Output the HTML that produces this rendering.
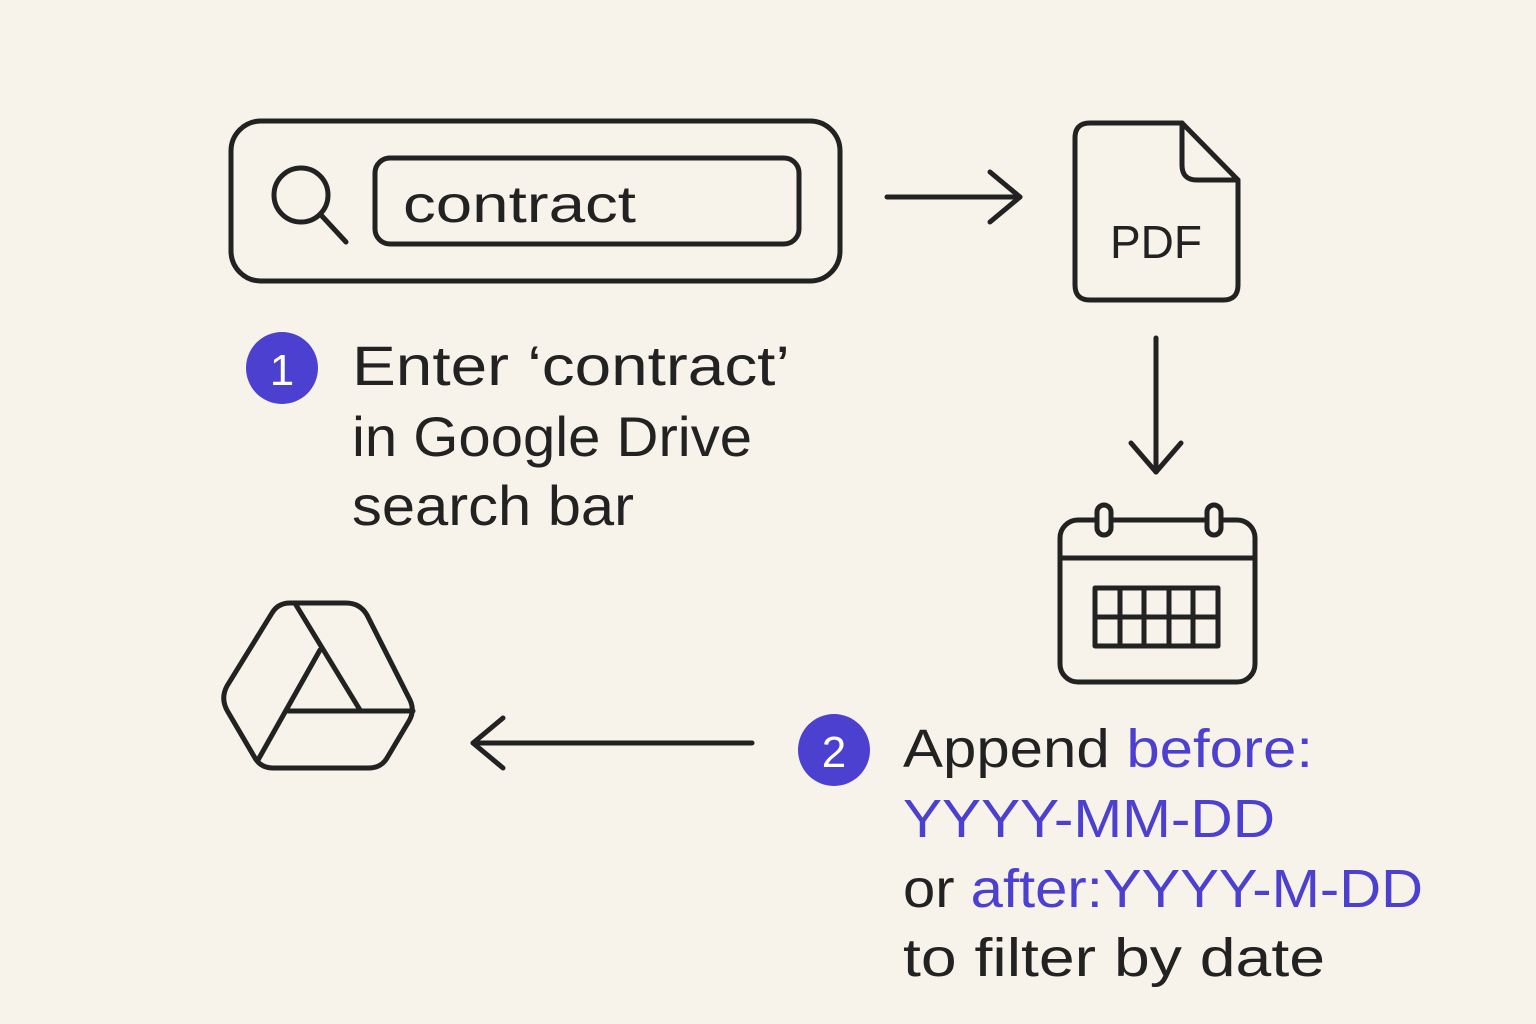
<!DOCTYPE html>
<html><head><meta charset="utf-8"><style>
html,body{margin:0;padding:0;background:#f7f2ea;}
svg{display:block}
text{font-family:"Liberation Sans",sans-serif;fill:#222;}
</style></head><body>
<svg width="1536" height="1024" viewBox="0 0 1536 1024" xmlns="http://www.w3.org/2000/svg">
<rect width="1536" height="1024" fill="#f7f2ea"/>
<g fill="none" stroke="#222" stroke-width="5" stroke-linecap="round" stroke-linejoin="round">
<rect x="231" y="121" width="609" height="160" rx="30"/>
<rect x="375" y="158" width="424" height="86" rx="15"/>
<circle cx="301" cy="195" r="27"/>
<line x1="321" y1="215" x2="346" y2="242"/>
<line x1="887" y1="197" x2="1020" y2="197"/>
<polyline points="990,172 1020,197 990,222"/>
<path d="M1090 123 H1182 L1238 180 V285 Q1238 300 1223 300 H1090 Q1075 300 1075 285 V138 Q1075 123 1090 123 Z"/>
<path d="M1182 123 V165 Q1182 180 1197 180 H1238"/>
<line x1="1156" y1="338" x2="1156" y2="472"/>
<polyline points="1131,443 1156,472 1181,443"/>
<rect x="1060" y="520" width="195" height="162" rx="18"/>
<line x1="1060" y1="558" x2="1255" y2="558"/>
<rect x="1097" y="505" width="14" height="30" rx="7" fill="#f7f2ea"/>
<rect x="1207" y="505" width="14" height="30" rx="7" fill="#f7f2ea"/>
<rect x="1095" y="588" width="123" height="58"/>
<line x1="1095" y1="617" x2="1218" y2="617"/>
<line x1="1120" y1="588" x2="1120" y2="646"/>
<line x1="1144" y1="588" x2="1144" y2="646"/>
<line x1="1169" y1="588" x2="1169" y2="646"/>
<line x1="1193" y1="588" x2="1193" y2="646"/>
<!-- drive -->
<path d="M290 603 H346 Q360 603 367 615 L410 700 Q415 711 409 721 L387 758 Q381 768 369 768 H273 Q261 768 255 758 L228 712 Q220 699 227 686 L272 613 Q278 603 290 603 Z"/>
<line x1="296" y1="605" x2="360" y2="710"/>
<line x1="288" y1="711" x2="413" y2="711"/>
<line x1="320" y1="650" x2="258" y2="760"/>
<line x1="752" y1="743" x2="473" y2="743"/>
<polyline points="503,718 473,743 503,768"/>
</g>
<text x="403" y="222" font-size="52" textLength="233" lengthAdjust="spacingAndGlyphs">contract</text>
<text x="1156" y="258" font-size="46" text-anchor="middle">PDF</text>
<circle cx="282" cy="368" r="36" fill="#4b40cf"/>
<text x="282" y="385" font-size="44" text-anchor="middle" style="fill:#fff">1</text>
<text font-size="56" x="352" y="385" textLength="438" lengthAdjust="spacingAndGlyphs">Enter ‘contract’</text>
<text font-size="56" x="352" y="456" textLength="400" lengthAdjust="spacingAndGlyphs">in Google Drive</text>
<text font-size="56" x="352" y="525" textLength="282" lengthAdjust="spacingAndGlyphs">search bar</text>
<circle cx="834" cy="750" r="36" fill="#4b40cf"/>
<text x="834" y="767" font-size="44" text-anchor="middle" style="fill:#fff">2</text>
<text font-size="54" x="903" y="767" textLength="410" lengthAdjust="spacingAndGlyphs">Append <tspan style="fill:#4b40cf">before:</tspan></text>
<text font-size="54" x="903" y="837" textLength="372" lengthAdjust="spacingAndGlyphs" style="fill:#4b40cf">YYYY-MM-DD</text>
<text font-size="54" x="903" y="907" textLength="520" lengthAdjust="spacingAndGlyphs">or <tspan style="fill:#4b40cf">after:YYYY-M-DD</tspan></text>
<text font-size="54" x="903" y="976" textLength="422" lengthAdjust="spacingAndGlyphs">to filter by date</text>
</svg>
</body></html>
